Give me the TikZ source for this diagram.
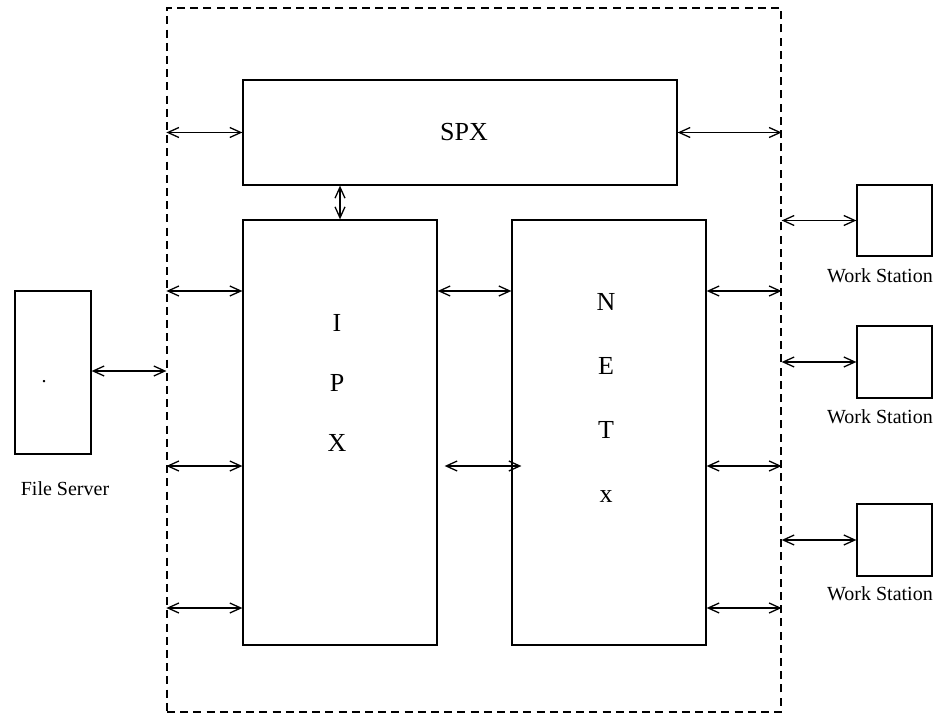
\documentclass[tikz,border=0pt]{standalone}
\usepackage{fontspec}
\setmainfont{Liberation Serif}
\usetikzlibrary{arrows.meta}
\begin{document}
\begin{tikzpicture}[x=0.5pt, y=-0.5pt, font=\fontsize{10}{12}\selectfont,
          >={Straight Barb[length=5.5pt, width=5pt]},
          box/.style={draw, line width=0.65pt, inner sep=0pt},
          frame/.style={draw, dashed, dash pattern=on 4pt off 2.6pt, line width=0.65pt, inner sep=0pt},
          big/.style={font=\fontsize{13}{30}\selectfont, align=center},
          dbl/.style={<->, line width=0.65pt}]
        \useasboundingbox (0,0) rectangle (933,717);
        \node[frame, minimum width=307pt, minimum height=352pt] (frame) at (474,360) {};
        \node[box, minimum width=217pt, minimum height=52.5pt] (spx) at (460,132.5) {};
        \node[big] (spxtxt) at (464,132) {SPX};
        \node[box, minimum width=97pt, minimum height=212.5pt] (ipx) at (340,432.5) {};
        \node[big] (ipxtxt) at (337,383) {I\\P\\X};
        \node[box, minimum width=97pt, minimum height=212.5pt] (netx) at (609,432.5) {};
        \node[big, font=\fontsize{13}{32}\selectfont] (netxtxt) at (606,398) {N\\E\\T\\x};
        % file server
        \node[box, minimum width=38pt, minimum height=81.5pt] (fs) at (53,372.5) {};
        \node (fsdot) at (44,382) {.};
        \node (fstxt) at (65,489) {File Server};
        % work stations
        \node[box, minimum width=37.5pt, minimum height=35.5pt] (ws1) at (894.5,220.5) {};
        \node (ws1txt) at (880,276) {Work Station};
        \node[box, minimum width=37.5pt, minimum height=36pt] (ws2) at (894.5,362) {};
        \node (ws2txt) at (880,417) {Work Station};
        \node[box, minimum width=37.5pt, minimum height=36pt] (ws3) at (894.5,540) {};
        \node (ws3txt) at (880,594) {Work Station};
        % arrows
        \draw[dbl] (spx.west -| frame.west) -- (spx.west);
        \draw[dbl] (spx.east) -- (spx.east -| frame.east);
        \draw[dbl] (spx.south -| ipx.north) -- (ipx.north);
        \foreach \y in {291,466,608} {
          \draw[dbl] (frame.west |- 0,\y) -- (ipx.west |- 0,\y);
          \draw[dbl] (netx.east |- 0,\y) -- (frame.east |- 0,\y);
        }
        \draw[dbl] (ipx.east |- 0,291) -- (netx.west |- 0,291);
        \draw[dbl] ([xshift=3.5pt]ipx.east |- 0,466) -- ([xshift=5pt]netx.west |- 0,466);
        \draw[dbl] (fs.east |- 0,371) -- (frame.west |- 0,371);
        \draw[dbl] (frame.east |- ws1.west) -- (ws1.west);
        \draw[dbl] (frame.east |- ws2.west) -- (ws2.west);
        \draw[dbl] (frame.east |- ws3.west) -- (ws3.west);
      \end{tikzpicture}
\end{document}
